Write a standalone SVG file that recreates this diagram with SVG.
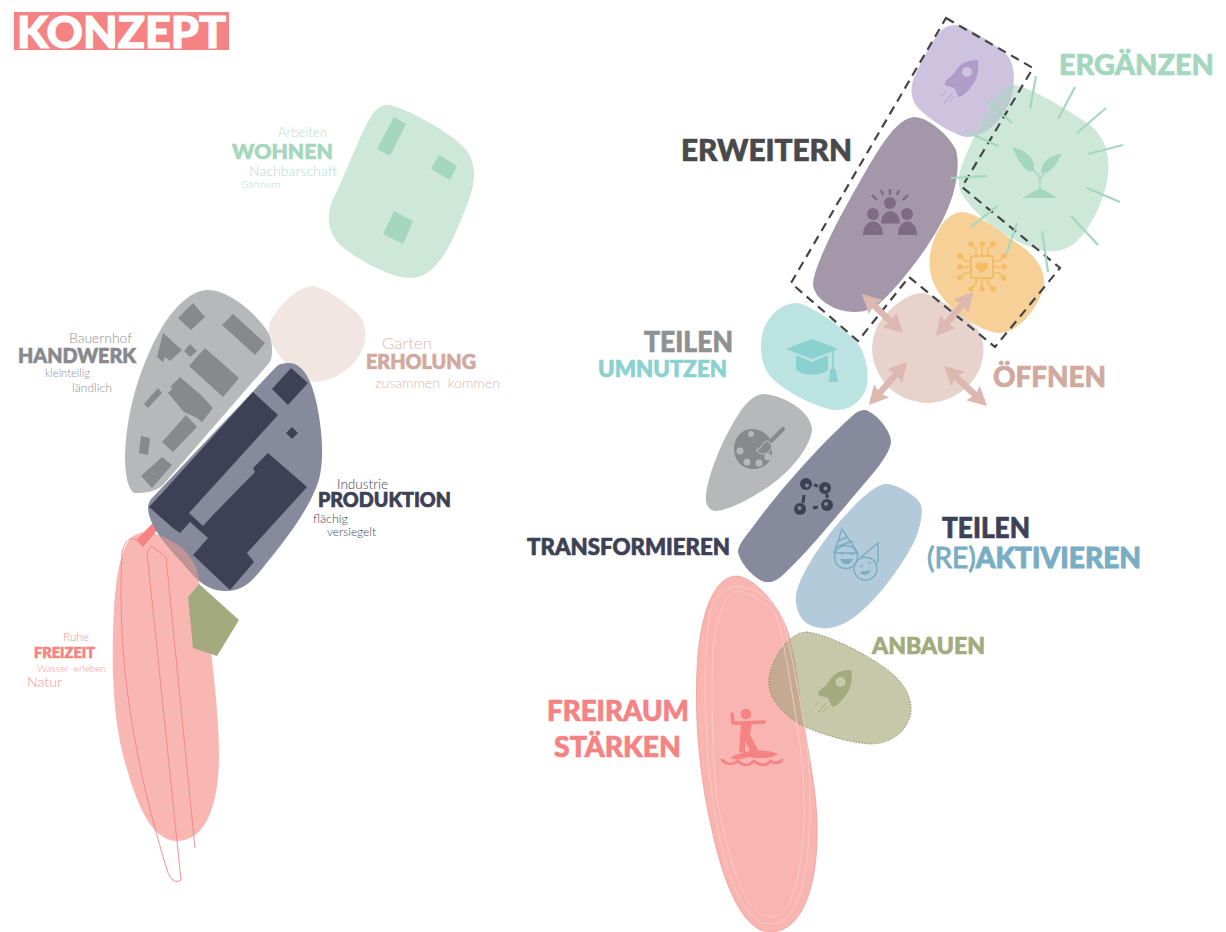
<svg xmlns="http://www.w3.org/2000/svg" width="1226" height="932" viewBox="0 0 1226 932">
<style>
text{font-family:"Lato","Liberation Sans",sans-serif}
.b{font-weight:900;stroke-width:.7}
.l{font-weight:300}
.gn{fill:#a5d7bf}.gr{fill:#88898c}.pk{fill:#d1a99f}.nv{fill:#3e4155}.rd{fill:#f58383}
.b.gn{stroke:#a5d7bf}.b.gr{stroke:#88898c}.b.pk{stroke:#d1a99f}.b.nv{stroke:#3e4155}.b.rd{stroke:#f58383}
.gnl{fill:#b5decb}.grl{fill:#8f9092}.pkl{fill:#dcb8b0}.rdl{fill:#f79492}
.spike{stroke:#a5d7bf;stroke-width:2.2;fill:none}
.arrow{stroke:#dcb8b0;stroke-width:6.5;fill:none;marker-start:url(#ah);marker-end:url(#ah)}
.pin{stroke:#f4bc65;stroke-width:1.6;fill:none}
.wl{fill:none;stroke:#fbcfca;stroke-width:.8}
</style>
<defs>
<marker id="ah" viewBox="0 0 19 20" refX="14" refY="10" markerWidth="19" markerHeight="20" markerUnits="userSpaceOnUse" orient="auto-start-reverse"><path d="M0 0L19 10L0 20L3 10Z" fill="#dcb8b0"/></marker>
<path id="pFrei" d="M147 532C155 532 172 540 182 548C192 557 199 570 199 582C204 600 205 590 208 622C212 665 219 710 219 755C219 800 208 841 177 841C150 841 135 800 123 755C113 715 112 670 113 635C114 590 118 555 130 539C135 534 141 532 147 532Z"/>
<path id="pProd" d="M290 363C305 364 313 385 317 405C322 430 324 455 320 475C315 500 290 535 265 565C250 585 240 591 226 591C212 591 203 585 195 577C185 565 165 545 157 532C152 524 148 515 148 508C148 503 150 500 153 497L277 366C281 363 286 363 290 363Z"/>
<path id="pPurple" d="M955 25C970 27 995 45 1006 54C1014 62 1015 75 1013 90C1010 110 990 137 967 137C955 136 930 120 918 108C910 98 910 88 914 78C922 60 935 35 943 29C947 26 951 25 955 25Z"/>
<path id="pGreen" d="M1013 85C1030 87 1060 105 1090 125C1105 137 1110 155 1108 175C1105 200 1090 230 1075 243C1062 253 1045 254 1028 246C1005 236 982 222 966 200C957 190 957 178 962 165C970 145 985 110 997 96C1002 89 1007 85 1013 85Z"/>
<path id="pOrange" d="M963 212C978 214 995 228 1017 243C1035 255 1045 268 1044 285C1040 305 1020 332 1000 333C985 333 955 315 943 298C932 285 928 270 930 255C933 235 945 212 963 212Z"/>
<path id="pFreiraum" d="M737 576C752 578 770 595 783 620C795 645 798 680 805 730C811 770 818 800 817 835C817 880 805 932 770 932C745 932 725 890 712 830C698 770 695 715 697 670C699 620 712 576 737 576Z"/>
<path id="pAnbau" d="M807 632C825 634 860 650 885 668C905 682 912 698 911 712C908 732 890 744 870 744C850 743 825 735 805 727C785 716 768 700 769 680C771 660 788 632 807 632Z"/>
<clipPath id="cFrei"><use href="#pFrei"/></clipPath>
<clipPath id="cGreen"><use href="#pGreen"/></clipPath>
<clipPath id="cOrange"><use href="#pOrange"/></clipPath>
<clipPath id="cFreiraum"><use href="#pFreiraum"/></clipPath>
<g id="rocket"><path stroke="none" fill-rule="evenodd" d="M851.5 670C845 670 838 671 833 676L826 685L819 691L818 695L828 698L832 707L837 705L843 699L848 692C852 686 852 677 851.5 670ZM840.5 677a5 5 0 1 0 .01 0Z"/><path fill="none" stroke-width=".8" d="M820 701L815 706M826 703L817 714M828 706L823 712"/></g>
</defs>

<g id="title"><rect x="14" y="12" width="215" height="38" fill="#f58383"/><text x="17" y="48" font-size="44" class="b" fill="#fff" stroke="#fff" style="stroke-width:1.200" textLength="209" lengthAdjust="spacingAndGlyphs">KONZEPT</text></g>

<g id="wohnen">
<path d="M390 105C410 110 455 135 466 150C478 165 475 185 467 205C455 235 440 278 410 278C390 278 355 258 340 245C325 230 327 210 335 195C345 175 360 135 370 118C376 108 383 104 390 105Z" fill="#cde7d9"/>
<path class="gn" d="M394 117L406 124L390 156L377 149ZM439 155L457 166L450 180L431 169ZM394 211L413 221L403 244L383 234Z"/>
<text class="l gnl" x="278" y="137" font-size="13" textLength="49" lengthAdjust="spacingAndGlyphs">Arbeiten</text>
<text class="b gn" x="232" y="159" font-size="21.5" textLength="101" lengthAdjust="spacingAndGlyphs">WOHNEN</text>
<text class="l gnl" x="249" y="176" font-size="14.5" textLength="88" lengthAdjust="spacingAndGlyphs">Nachbarschaft</text>
<text class="l gnl" x="241" y="188" font-size="10" textLength="39" lengthAdjust="spacingAndGlyphs">Gärtnern</text>
</g>

<g id="erholung">
<path d="M312 286C325 287 345 302 357 313C366 322 367 335 364 345C358 365 335 382 315 382C300 380 285 365 276 350C268 340 267 328 271 320C279 305 298 287 312 286Z" fill="#f2e6e3"/>
<text class="l pkl" x="382" y="349" font-size="16" textLength="50" lengthAdjust="spacingAndGlyphs">Garten</text>
<text class="b pk" x="366" y="369" font-size="20" textLength="110" lengthAdjust="spacingAndGlyphs">ERHOLUNG</text>
<text class="l pkl" x="375" y="388" font-size="13" textLength="125" lengthAdjust="spacingAndGlyphs" xml:space="preserve">zusammen  kommen</text>
</g>

<g id="handwerk">
<path d="M208 290C228 290 255 312 268 332C273 342 273 355 270 362L163 485C155 492 145 493 135 493C128 491 125 475 125 455C126 420 135 380 155 340C170 310 190 290 208 290Z" fill="#b7b8ba"/>
<path d="M193 303L205 317L191 330L178 318ZM233 314L265 343L255 355L222 325ZM163 333L182 350L170 361L165 357L163 362L157 357ZM190 344L197 351L190 357L184 351ZM205 348L239 378L223 397L189 366ZM170 387L180 377L201 395L213 408L202 422L197 418L184 412L168 393L173 388ZM186 415L197 427L173 452L162 442ZM158 388L162 393L148 408L144 404ZM141 436L150 438L148 455L139 453ZM162 457L172 465L152 488L141 476Z" fill="#88898c"/>
<text class="l grl" x="69" y="343" font-size="13" textLength="63" lengthAdjust="spacingAndGlyphs">Bauernhof</text>
<text class="b gr" x="18" y="363" font-size="21" textLength="118" lengthAdjust="spacingAndGlyphs">HANDWERK</text>
<text class="l grl" x="45" y="377" font-size="11" textLength="45" lengthAdjust="spacingAndGlyphs">kleinteilig</text>
<text class="l grl" x="72" y="392" font-size="12" textLength="40" lengthAdjust="spacingAndGlyphs">ländlich</text>
</g>

<g id="freizeit">
<use href="#pFrei" fill="#f8b7b3"/>
<path d="M136 540C130 535 124 543 122 552C120 590 121 640 126 680C135 760 155 830 167 870C170 880 176 884 181 880L147 552L151 546L166 557L195 848" fill="none" stroke="#f58383" stroke-width=".9"/>
<path d="M153 523L159 528L143 547L136 540Z" class="rd"/>
<text class="l rdl" x="63" y="641" font-size="11" textLength="26" lengthAdjust="spacingAndGlyphs">Ruhe</text>
<text class="b rd" x="34" y="658" font-size="15" textLength="61" lengthAdjust="spacingAndGlyphs">FREIZEIT</text>
<text class="l rdl" x="37" y="672" font-size="10" textLength="69" lengthAdjust="spacingAndGlyphs" xml:space="preserve">Wasser  erleben</text>
<text class="l rdl" x="27" y="687" font-size="13" textLength="35" lengthAdjust="spacingAndGlyphs">Natur</text>
</g>

<g id="produktion">
<use href="#pProd" fill="#878a9c"/>
<use href="#pProd" fill="#bf9396" clip-path="url(#cFrei)"/>
<path class="nv" d="M291 368L308 383L288 405L272 389ZM292 427L298 433L292 439L286 433ZM253 392L278 415L189 513L190 522L180 533L173 528L149 507L163 492ZM189 513L203 526L208 538L190 522ZM268 453L307 487L247 553L254 562L230 590L193 555L208 538L203 526L213 515L255 472L253 468Z"/>
<text class="l nv" x="337" y="489" font-size="13" textLength="51" lengthAdjust="spacingAndGlyphs">Industrie</text>
<text class="b nv" x="318" y="507" font-size="20" textLength="133" lengthAdjust="spacingAndGlyphs">PRODUKTION</text>
<text class="l nv" x="313" y="523" font-size="12" textLength="35" lengthAdjust="spacingAndGlyphs">flächig</text>
<text class="l nv" x="327" y="536" font-size="12" textLength="49" lengthAdjust="spacingAndGlyphs">versiegelt</text>
</g>

<g id="anbau-left"><path d="M199 584L239 620L217 656L193 648L188 597Z" fill="#a3ab7e"/></g>

<g id="erweitern-top">
<use href="#pPurple" fill="#cdc3de"/>
<use href="#rocket" transform="translate(126.5,-610)" fill="#af9cc8" stroke="#af9cc8"/>
</g>

<g id="erweitern">
<path d="M915 117C930 118 950 137 956 150C960 165 957 190 945 215C930 248 895 290 880 303C870 312 855 314 840 310C825 305 813 295 813 283C815 265 835 225 855 190C875 155 895 117 915 117Z" fill="#a497a9"/>
<g fill="#7f6b85"><circle cx="890" cy="203" r="6"/><circle cx="873" cy="214" r="6"/><circle cx="907" cy="214" r="6"/><path d="M881 223.5C881 207 900 207 900 223.5ZM863 235C863 217 883 217 883 235ZM898 235C898 217 917 217 917 235Z"/></g>
<path d="M890 189V195M881 190L883 195M899 190L897 195M872 195L877 200M908 195L903 200" stroke="#7f6b85" stroke-width="2.4" fill="none"/>
<text class="b" fill="#48494b" stroke="#48494b" x="681" y="161" font-size="31" textLength="171" lengthAdjust="spacingAndGlyphs">ERWEITERN</text>
</g>

<g id="ergaenzen">
<use href="#pGreen" fill="#cde7d9"/>
<use href="#pPurple" fill="#bbcbce" clip-path="url(#cGreen)"/>
<path class="gn" d="M1012 147C1025 150 1036 158 1034 170C1032 172 1030 172 1028 171C1020 165 1016 155 1012 147ZM1062 154C1050 155 1041 162 1041 172C1043 174 1046 173 1048 172C1055 168 1058 160 1062 154ZM1022 198C1030 194 1036 190 1040 188C1045 190 1050 194 1058 198Z"/>
<path d="M1040 189V180C1040 175 1034 172 1032 168M1040 180C1041 177 1043 175 1044 173" stroke="#a5d7bf" stroke-width="1.5" fill="none"/>
<text class="b gn" x="1059" y="75" font-size="29" textLength="155" lengthAdjust="spacingAndGlyphs">ERGÄNZEN</text>
</g>

<g id="chip">
<use href="#pOrange" fill="#f7d097"/>
<use href="#pGreen" fill="#d3d4a9" clip-path="url(#cOrange)"/>
<rect x="971" y="256" width="22" height="22" rx="1.5" fill="none" stroke="#f4bc65" stroke-width="2"/>
<path d="M982 273.5L976.5 268C974 263 980 260 982 264C984 260 990 263 987.5 268Z" fill="#f4bc65"/>
<g fill="#f4bc65"><circle cx="971" cy="244" r="2.8"/><circle cx="982" cy="244" r="2.8"/><circle cx="993" cy="244" r="2.8"/><circle cx="960" cy="256" r="2.8"/><circle cx="960" cy="267" r="2.8"/><circle cx="960" cy="278" r="2.8"/><circle cx="1004" cy="256" r="2.8"/><circle cx="1004" cy="267" r="2.8"/><circle cx="1004" cy="278" r="2.8"/><circle cx="971" cy="289" r="2.8"/><circle cx="982" cy="289" r="2.8"/><circle cx="993" cy="289" r="2.8"/></g>
<path class="pin" d="M971 244L976 249V256M982 244V256M993 244L988 249V256M960 256L965 261H971M960 267H971M960 278L965 273H971M1004 256L999 261H993M1004 267H993M1004 278L999 273H993M971 289L976 284V278M982 289V278M993 289L988 284V278"/>
</g>

<g id="oeffnen">
<path d="M923 293C935 295 965 315 978 330C985 340 985 355 980 368C972 388 950 403 927 403C905 402 885 390 877 370C870 355 871 340 877 327C885 312 905 293 923 293Z" fill="#e7d2cc"/>
<text class="b pk" x="993" y="387" font-size="29" textLength="113" lengthAdjust="spacingAndGlyphs">ÖFFNEN</text>
</g>

<g id="umnutzen">
<path d="M797 303C810 305 840 325 855 340C866 352 869 370 867 385C864 400 850 411 835 410C818 408 785 392 772 378C762 368 759 350 762 335C766 318 780 303 797 303Z" fill="#bae3e1"/>
<path d="M812 339L838 349L812 359L786 349ZM796 355L812 362L828 355V370C822 376 802 376 796 370ZM830 370C832 368 834 368 836 370L838 382H829Z" fill="#8ad1cf"/>
<path d="M833 350V372" stroke="#8ad1cf" stroke-width="1.6"/>
<text class="b" fill="#8f9092" stroke="#8f9092" x="644" y="352" font-size="28" textLength="89" lengthAdjust="spacingAndGlyphs">TEILEN</text>
<text class="b" fill="#8ad1cf" stroke="#8ad1cf" x="598" y="377" font-size="22" textLength="129" lengthAdjust="spacingAndGlyphs">UMNUTZEN</text>
</g>

<g id="palette">
<path d="M765 394C785 396 812 412 812 430C810 450 785 478 760 492C745 502 725 511 715 511C708 510 705 503 706 495C708 475 722 440 738 415C746 402 755 394 765 394Z" fill="#b7b8ba"/>
<path d="M752 429C760 429 766 433 770 439L772 452C772 462 764 469 753 469C742 469 734 460 734 449C734 438 741 429 752 429Z" fill="#88898c"/>
<g fill="#b7b8ba"><circle cx="751" cy="434" r="3"/><circle cx="740" cy="451" r="3.5"/><circle cx="747" cy="462" r="3.5"/><circle cx="759" cy="463" r="3.5"/><circle cx="768" cy="457" r="3.5"/></g>
<path d="M783 429L769 443" stroke="#88898c" stroke-width="4.200" stroke-linecap="round"/>
<path d="M767 441C761 443 762 449 756 450C760 456 769 455 772 447C772 445 770 442 767 441Z" fill="#88898c" stroke="#b7b8ba" stroke-width="1.100"/>
</g>

<g id="transformieren">
<path d="M865 410C875 412 891 430 891 442C890 452 880 465 870 477C850 500 810 550 785 573C775 583 768 584 760 580C750 574 740 562 738 552C738 545 745 537 755 524C780 490 820 445 850 418C856 412 860 410 865 410Z" fill="#878a9c"/>
<g fill="#3e4155"><circle cx="806" cy="484" r="6"/><circle cx="825" cy="488" r="6"/><circle cx="827" cy="505" r="6"/><circle cx="800" cy="509" r="6"/></g>
<g fill="#878a9c"><circle cx="807" cy="485.500" r="2"/><circle cx="825.500" cy="488.500" r="2"/><circle cx="826" cy="504" r="2"/><circle cx="799.500" cy="508" r="2"/></g>
<path d="M818 486L814 485M827 494V498M818 507L813 508M803 503L804 495" stroke="#3e4155" stroke-width="3" fill="none"/>
<text class="b nv" x="527" y="555" font-size="23" textLength="203" lengthAdjust="spacingAndGlyphs">TRANSFORMIEREN</text>
</g>

<g id="reaktivieren">
<path d="M887 484C898 485 915 495 920 503C924 510 921 525 915 540C900 570 870 610 845 623C832 630 820 630 808 624C798 618 795 605 796 595C799 575 825 535 855 505C868 492 878 484 887 484Z" fill="#b2cad9"/>
<g fill="none" stroke="#78adc4" stroke-width="1.4"><circle cx="846" cy="557" r="11.5"/><circle cx="865.500" cy="568.700" r="11.500"/><path d="M834 553L842 529L858 553ZM861 557L878 543L878 563M838 541L848 537M836 547L853 541"/><path d="M841 554h3M850 554h3M860 566h3M868 563h3"/></g>
<path d="M840 559C843 566 850 566 853 559ZM860 572C862 576 868 576 871 570Z" fill="#78adc4"/>
<text class="b nv" x="942" y="538" font-size="28" textLength="88" lengthAdjust="spacingAndGlyphs">TEILEN</text>
<text font-size="28" fill="#78adc4" stroke="#78adc4" stroke-width=".9" x="927" y="568" font-weight="400" textLength="214" lengthAdjust="spacingAndGlyphs">(RE)<tspan font-weight="900">AKTIVIEREN</tspan></text>
</g>

<g id="freiraum">
<use href="#pFreiraum" fill="#f8b5b1" stroke="#f59a98" stroke-width=".8"/>
<circle cx="746" cy="714" r="5.300" class="rd"/>
<path d="M732 714L733 723L745 723L764 722" fill="none" stroke="#f58383" stroke-width="3.600" stroke-linecap="round" stroke-linejoin="round"/>
<path d="M741 722L752 722L750 735L758 750L751 753L745 741L745 753L739 752Z" class="rd"/>
<path d="M730 758C742 750 765 748 778 754C770 760 755 758 748 757C742 760 735 760 730 758Z" class="rd"/>
<path d="M722 760C727 765 733 765 738 761C743 766 749 766 754 761C760 766 766 766 771 761C775 764 779 763 782 760" fill="none" stroke="#f58383" stroke-width="2.800" stroke-linecap="round"/>
<text class="b rd" x="547" y="721" font-size="29" textLength="142" lengthAdjust="spacingAndGlyphs">FREIRAUM</text>
<text class="b rd" x="554" y="757" font-size="29" textLength="127" lengthAdjust="spacingAndGlyphs">STÄRKEN</text>
</g>

<g id="anbauen">
<use href="#pAnbau" fill="#c5c9aa" stroke="#8f9a6e" stroke-width="1" stroke-dasharray="1.500 1.500"/>
<g clip-path="url(#cFreiraum)"><use href="#pAnbau" fill="#c4aa92" stroke="#8f9a6e" stroke-width="1" stroke-dasharray="1.500 1.500"/></g>
<path class="wl" d="M737 586C757 588 772 600 780 613C790 640 798 690 806 735C810 770 812 810 808 850C804 890 795 924 770 924C745 924 728 880 718 830C712 800 708 770 707 740C704 700 704 650 710 613C713 600 722 588 737 586Z"/>
<path class="wl" d="M737 591C752 592 768 605 775 613C785 640 793 700 800 745C804 780 806 820 802 850C798 885 790 917 770 917C750 917 735 880 726 840C720 815 716 800 715 780C712 735 711 690 713 653C715 625 722 595 737 591Z"/>
<use href="#rocket" fill="#a3ab7e" stroke="#a3ab7e"/>
<text class="b" fill="#a3ab7e" stroke="#a3ab7e" x="872" y="654" font-size="23" textLength="113" lengthAdjust="spacingAndGlyphs">ANBAUEN</text>
</g>

<g id="connectors">
<path d="M946 18L1033 68L962 187L1060 268L995 347L909 277L858 341L791 283Z" fill="none" stroke="#444548" stroke-width="2.200" stroke-dasharray="9 6"/>
<path class="spike" d="M1036 76L1030 109M1075 87L1058 119M1106 108L1077 133M1123 145L1088 154M1120 202L1087 188M1098 245L1071 216M1048 272L1042 231M1017 223L1006 255M997 206L971 227M987 176L951 178M998 146L965 131M1012 123L985 99"/>
<line class="arrow" x1="865.6" y1="297.4" x2="899.4" y2="329.6"/>
<line class="arrow" x1="969.8" y1="295.8" x2="939.2" y2="332.2"/>
<line class="arrow" x1="903.7" y1="365.7" x2="872.3" y2="401.3"/>
<line class="arrow" x1="947.7" y1="369.4" x2="983.3" y2="402.6"/>
</g>
</svg>
